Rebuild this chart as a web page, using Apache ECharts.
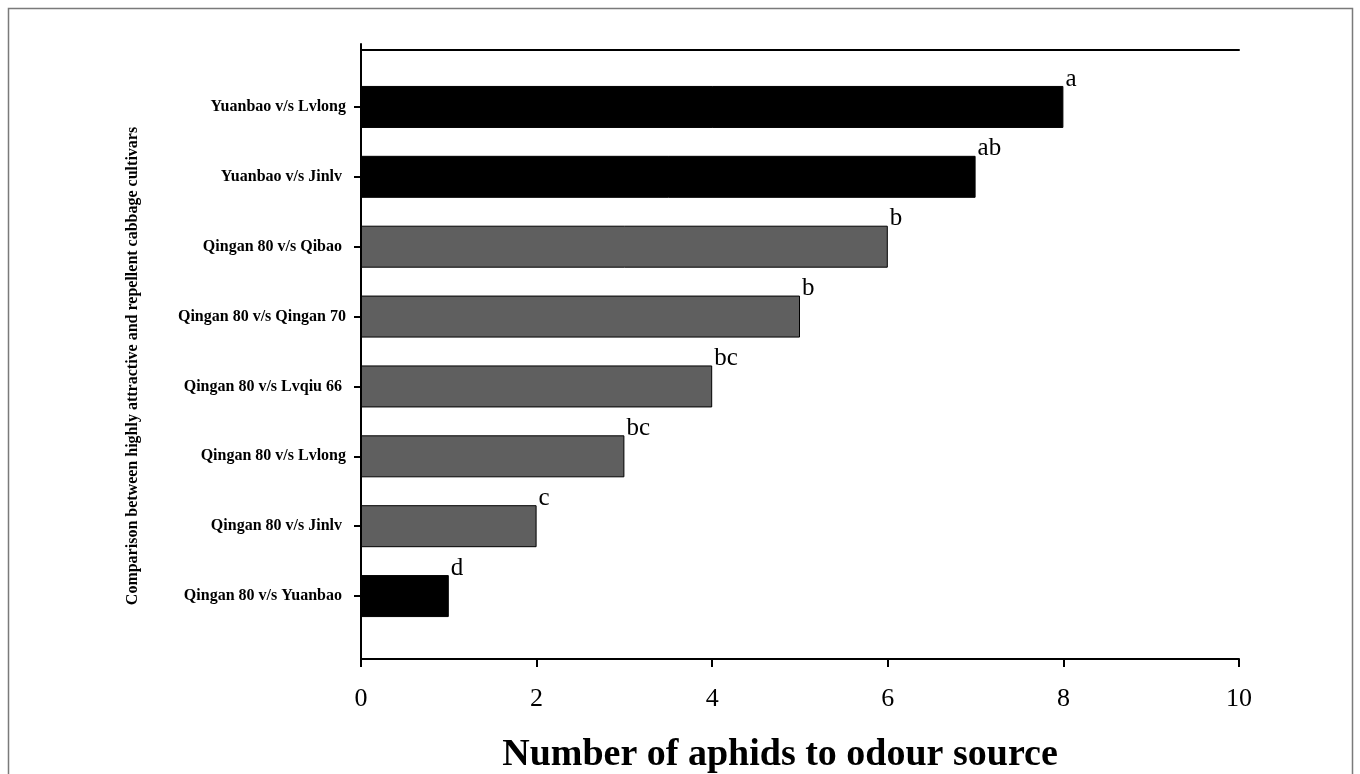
<!DOCTYPE html>
<html>
<head>
<meta charset="utf-8">
<style>
  html, body { margin: 0; padding: 0; background: #ffffff; }
  #chart { width: 1360px; height: 774px; }
</style>
<script src="https://cdn.jsdelivr.net/npm/echarts@6/dist/echarts.min.js"></script>
</head>
<body>
<div id="chart"></div>
<script>
// Pairwise olfactometer comparisons, listed top to bottom
const categories = [
  'Yuanbao v/s Lvlong',
  'Yuanbao v/s Jinlv ',
  'Qingan 80 v/s Qibao ',
  'Qingan 80 v/s Qingan 70',
  'Qingan 80 v/s Lvqiu 66 ',
  'Qingan 80 v/s Lvlong',
  'Qingan 80 v/s Jinlv ',
  'Qingan 80 v/s Yuanbao '
];
// Number of aphids choosing the odour source
const aphidCounts = [8, 7, 6, 5, 4, 3, 2, 1];
// Significance letters
const groupLetters = ['a', 'ab', 'b', 'b', 'bc', 'bc', 'c', 'd'];
// x axis ticks
const xMin = 0, xMax = 10, xStep = 2;

const SERIF = '"Liberation Serif", "DejaVu Serif", serif';

const chart = echarts.init(document.getElementById('chart'), null, { renderer: 'canvas' });

// Comparisons involving Yuanbao are drawn in black, the rest in dark grey
const barColor = name => name.includes('Yuanbao') ? '#000000' : '#5f5f5f';

const option = {
  backgroundColor: '#ffffff',
  animation: false,
  title: {
    text: 'Number of aphids to odour source',
    left: 775,
    top: 731,
    textAlign: 'center',
    textStyle: { fontFamily: SERIF, fontWeight: 'bold', fontSize: 38, color: '#000' }
  },
  graphic: [
    {
      type: 'rect',
      shape: { x: 8.5, y: 8.5, width: 1344, height: 800 },
      style: { fill: null, stroke: '#7a7a7a', lineWidth: 1.5 },
      silent: true
    },
    {
      type: 'text',
      x: 133,
      y: 366,
      rotation: Math.PI / 2,
      style: {
        text: 'Comparison between highly attractive and repellent cabbage cultivars',
        fontFamily: SERIF,
        fontWeight: 'bold',
        fontSize: 16,
        fill: '#000',
        align: 'center',
        verticalAlign: 'middle'
      },
      silent: true
    }
  ],
  grid: [
    // frame: axes box
    { left: 361, right: 121, top: 44, bottom: 115 },
    // bars
    { left: 361, right: 121, top: 72, bottom: 143 }
  ],
  xAxis: [
    {
      gridIndex: 0, type: 'value', position: 'bottom',
      min: xMin, max: xMax, interval: xStep,
      axisLine: { show: true, lineStyle: { color: '#000', width: 2 } },
      axisTick: { show: true, inside: false, length: 8, lineStyle: { color: '#000', width: 2 } },
      axisLabel: { show: true, margin: 27, fontFamily: SERIF, fontSize: 26, color: '#000' },
      splitLine: { show: false }
    },
    {
      gridIndex: 0, type: 'value', position: 'top', offset: -6,
      min: xMin, max: xMax,
      axisLine: { show: true, lineStyle: { color: '#000', width: 2 } },
      axisTick: { show: false }, axisLabel: { show: false }, splitLine: { show: false }
    },
    {
      gridIndex: 1, type: 'value', min: xMin, max: xMax, show: false
    }
  ],
  yAxis: [
    {
      gridIndex: 0, type: 'value', min: 0, max: 1,
      axisLine: { show: true, lineStyle: { color: '#000', width: 2 } },
      axisTick: { show: false }, axisLabel: { show: false }, splitLine: { show: false }
    },
    {
      gridIndex: 1, type: 'category', inverse: true, data: categories,
      axisLine: { show: false },
      axisTick: { show: true, alignWithLabel: true, length: 7, lineStyle: { color: '#000', width: 2 } },
      axisLabel: {
        margin: 15, fontFamily: SERIF, fontWeight: 'bold', fontSize: 16, color: '#000'
      },
      splitLine: { show: false }
    }
  ],
  series: [
    {
      type: 'bar',
      xAxisIndex: 2,
      yAxisIndex: 1,
      barWidth: 42,
      data: aphidCounts.map((v, i) => ({
        value: v,
        itemStyle: { color: barColor(categories[i]), borderColor: '#000', borderWidth: 1 }
      })),
      label: {
        show: true,
        position: 'right',
        distance: 2,
        offset: [0, -28],
        fontFamily: SERIF,
        fontSize: 25,
        color: '#000',
        formatter: p => groupLetters[p.dataIndex]
      }
    }
  ]
};

chart.setOption(option);
</script>
</body>
</html>
